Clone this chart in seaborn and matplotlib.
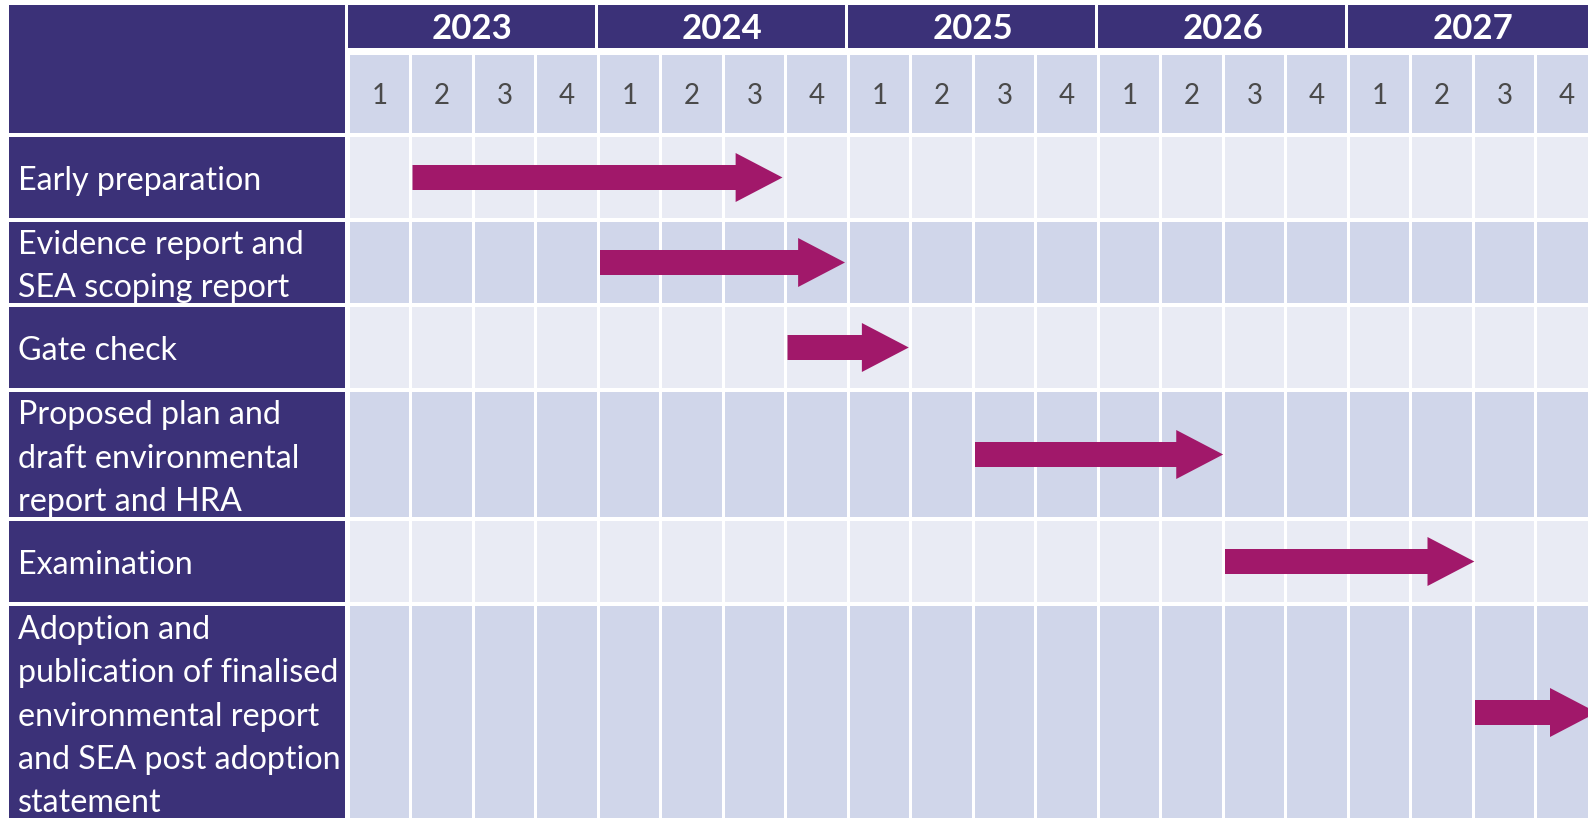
"""Gantt style timetable for the plan stages."""
import matplotlib.pyplot as plt
from matplotlib.patches import Rectangle, Polygon
import seaborn as sns

years = ['2023', '2024', '2025', '2026', '2027']
quarters = ['1', '2', '3', '4']
tasks = [
    'Early preparation',
    'Evidence report and\nSEA scoping report',
    'Gate check',
    'Proposed plan and\ndraft environmental\nreport and HRA',
    'Examination',
    'Adoption and\npublication of finalised\nenvironmental report\nand SEA post adoption\nstatement',
]
# quarter index (0 = 2023 Q1) where each arrow starts / where its tip lands
start_q = [1, 4, 7, 10, 14, 18]
end_q = [6.92, 7.92, 8.94, 13.97, 17.99, 19.95]

sns.set_theme(style='white')
plt.rcParams['font.family'] = ['Lato', 'DejaVu Sans']

navy = '#3b3178'
light = '#e9ebf4'
band = '#d0d6ea'
magenta = '#a1186a'

W, H = 1588, 818
col_px = 62.5
x0_px = 350
gap = 3 / col_px

fig = plt.figure(figsize=(W / 100, H / 100), dpi=100)
ax = fig.add_axes([0, 0, 1, 1])
ax.set_xlim(-x0_px / col_px, (W - x0_px) / col_px)
ax.set_ylim(H, 0)
ax.axis('off')

label_left = (9 - x0_px) / col_px
label_right = (345 - x0_px) / col_px
n_cols = len(years) * len(quarters)

# header: corner cell, years, quarters
ax.add_patch(Rectangle((label_left, 5), label_right - label_left, 128, color=navy, lw=0))
for i, yr in enumerate(years):
    x = i * len(quarters)
    ax.add_patch(Rectangle((x - 0.03, 5), len(quarters) - gap, 43, color=navy, lw=0))
    ax.text(x + 2 - 0.04, 29, yr, color='white', fontsize=25, fontweight='bold',
            ha='center', va='center')
for j in range(n_cols):
    ax.add_patch(Rectangle((j, 55), 1 - gap, 78, color=band, lw=0))
    ax.text(j + 0.47, 96, quarters[j % 4], color='#4a4a4a', fontsize=20,
            fontweight='normal', ha='center', va='center')

# task rows
y = 137
for k, task in enumerate(tasks):
    n_lines = task.count('\n') + 1
    pitch = 85 + 44 * (max(n_lines, 2) - 2)
    h = pitch - 4
    fill = light if k % 2 == 0 else band
    ax.add_patch(Rectangle((label_left, y), label_right - label_left, h, color=navy, lw=0))
    for j in range(n_cols):
        ax.add_patch(Rectangle((j, y), 1 - gap, h, color=fill, lw=0))
    ax.text((18 - x0_px) / col_px, y + h / 2 + 4, task, color='white', fontsize=23.2,
            ha='left', va='center', linespacing=1.55)

    # arrow
    yc = y + h / 2
    x_a, x_b = start_q[k], end_q[k]
    head = 0.75
    pts = [(x_a, yc - 12.5), (x_b - head, yc - 12.5), (x_b - head, yc - 24.5),
           (x_b, yc), (x_b - head, yc + 24.5), (x_b - head, yc + 12.5),
           (x_a, yc + 12.5)]
    ax.add_patch(Polygon(pts, closed=True, color=magenta, lw=0, zorder=3))
    y += pitch

fig.savefig('out.png', dpi=100, facecolor='white')
